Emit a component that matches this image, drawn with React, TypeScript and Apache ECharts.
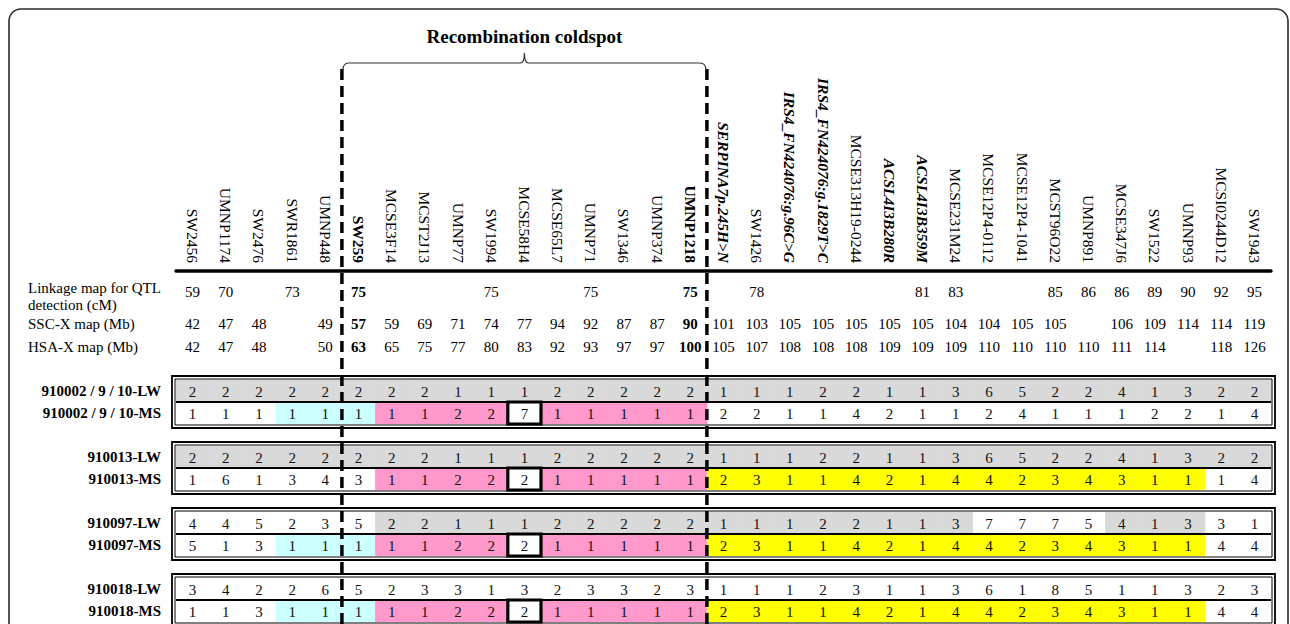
import React, { useEffect, useRef } from 'react';
import * as echarts from 'echarts';

// ---------------- data ----------------
const MARKERS = [
  'SW2456', 'UMNP1174', 'SW2476', 'SWR1861', 'UMNP448',
  'SW259', 'MCSE3F14', 'MCST2J13', 'UMNP77', 'SW1994', 'MCSE58H4', 'MCSE65L7', 'UMNP71', 'SW1346', 'UMNP374', 'UMNP1218',
  'SERPINA7p.245H>N', 'SW1426', 'IRS4_FN424076:g.96C>G', 'IRS4_FN424076:g.1829T>C', 'MCSE313H19-0244',
  'ACSL4I3B280R', 'ACSL4I3B359M', 'MCSE231M24', 'MCSE12P4-0112', 'MCSE12P4-1041', 'MCST96O22', 'UMNP891',
  'MCSE347J6', 'SW1522', 'UMNP93', 'MCSI0244D12', 'SW1943',
];
const BOLD_MARKERS = ['SW259', 'UMNP1218'];
const BOLD_ITALIC_MARKERS = ['SERPINA7p.245H>N', 'IRS4_FN424076:g.96C>G', 'IRS4_FN424076:g.1829T>C', 'ACSL4I3B280R', 'ACSL4I3B359M'];

const COLDSPOT_FIRST = 'SW259';
const COLDSPOT_LAST = 'UMNP1218';
const COLDSPOT_TITLE = 'Recombination coldspot';

const MAP_LABELS = ['Linkage map for QTL\ndetection (cM)', 'SSC-X map (Mb)', 'HSA-X map (Mb)'];
const LINKAGE_CM = [59, 70, null, 73, null, 75, null, null, null, 75, null, null, 75, null, null, 75,
  null, 78, null, null, null, null, 81, 83, null, null, 85, 86, 86, 89, 90, 92, 95];
const SSC_X_MB = [42, 47, 48, null, 49, 57, 59, 69, 71, 74, 77, 94, 92, 87, 87, 90,
  101, 103, 105, 105, 105, 105, 105, 104, 104, 105, 105, null, 106, 109, 114, 114, 119];
const HSA_X_MB = [42, 47, 48, null, 50, 63, 65, 75, 77, 80, 83, 92, 93, 97, 97, 100,
  105, 107, 108, 108, 108, 109, 109, 109, 110, 110, 110, 110, 111, 114, null, 118, 126];

const ANIMALS = ['910002 / 9 / 10', '910013', '910097', '910018'];

const LW_910002 = [2, 2, 2, 2, 2, 2, 2, 2, 1, 1, 1, 2, 2, 2, 2, 2, 1, 1, 1, 2, 2, 1, 1, 3, 6, 5, 2, 2, 4, 1, 3, 2, 2];
const MS_910002 = [1, 1, 1, 1, 1, 1, 1, 1, 2, 2, 7, 1, 1, 1, 1, 1, 2, 2, 1, 1, 4, 2, 1, 1, 2, 4, 1, 1, 1, 2, 2, 1, 4];
const LW_910013 = [2, 2, 2, 2, 2, 2, 2, 2, 1, 1, 1, 2, 2, 2, 2, 2, 1, 1, 1, 2, 2, 1, 1, 3, 6, 5, 2, 2, 4, 1, 3, 2, 2];
const MS_910013 = [1, 6, 1, 3, 4, 3, 1, 1, 2, 2, 2, 1, 1, 1, 1, 1, 2, 3, 1, 1, 4, 2, 1, 4, 4, 2, 3, 4, 3, 1, 1, 1, 4];
const LW_910097 = [4, 4, 5, 2, 3, 5, 2, 2, 1, 1, 1, 2, 2, 2, 2, 2, 1, 1, 1, 2, 2, 1, 1, 3, 7, 7, 7, 5, 4, 1, 3, 3, 1];
const MS_910097 = [5, 1, 3, 1, 1, 1, 1, 1, 2, 2, 2, 1, 1, 1, 1, 1, 2, 3, 1, 1, 4, 2, 1, 4, 4, 2, 3, 4, 3, 1, 1, 4, 4];
const LW_910018 = [3, 4, 2, 2, 6, 5, 2, 3, 3, 1, 3, 2, 3, 3, 2, 3, 1, 1, 1, 2, 3, 1, 1, 3, 6, 1, 8, 5, 1, 1, 3, 2, 3];
const MS_910018 = [1, 1, 3, 1, 1, 1, 1, 1, 2, 2, 2, 1, 1, 1, 1, 1, 2, 3, 1, 1, 4, 2, 1, 4, 4, 2, 3, 4, 3, 1, 1, 4, 4];

// shading codes per cell: w white, g grey, c cyan, p pink, y yellow, b boxed
const SH_LW_910002 = 'ggggggggggggggggggggggggggggggggg';
const SH_MS_910002 = 'wwwcccppppbpppppwwwwwwwwwwwwwwwww';
const SH_LW_910013 = 'ggggggggggggggggggggggggggggggggg';
const SH_MS_910013 = 'wwwwwwppppbpppppyyyyyyyyyyyyyyyww';
const SH_LW_910097 = 'wwwwwwggggggggggggggggggwwwwgggww';
const SH_MS_910097 = 'wwwcccppppbpppppyyyyyyyyyyyyyyyww';
const SH_LW_910018 = 'wwwwwwwwwwwwwwwwwwwwwwwwwwwwwwwww';
const SH_MS_910018 = 'wwwcccppppbpppppyyyyyyyyyyyyyyyww';

const BLOCK_VALUES = [
  [LW_910002, MS_910002], [LW_910013, MS_910013], [LW_910097, MS_910097], [LW_910018, MS_910018],
];
const BLOCK_SHADES = [
  [SH_LW_910002, SH_MS_910002], [SH_LW_910013, SH_MS_910013], [SH_LW_910097, SH_MS_910097], [SH_LW_910018, SH_MS_910018],
];

// ---------------- styling / layout ----------------
const FONT = '"Liberation Serif", "Times New Roman", serif';
const SHADE_KEYS = ['w', 'g', 'c', 'p', 'y', 'b'];
const SHADE_COLORS: Record<string, string> = {
  w: '#ffffff', g: '#d9d9d9', c: '#ccffff', p: '#ff99cc', y: '#ffff00', b: '#ffffff',
};
const GRID_LEFT = 176;
const GRID_W = 1095;
const HEAD_TOP = 271;
const HEAD_H = 90;
const MAP_ROW_Y = [21, 53, 76];
const BLOCK_TOP = 380;
const BLOCK_STEP = 66;
const BLOCK_H = 44;

function buildOption() {
  const nBlocks = ANIMALS.length;

  const grids: any[] = [{ left: GRID_LEFT, top: HEAD_TOP, width: GRID_W, height: HEAD_H }];
  const xAxes: any[] = [{
    type: 'category', gridIndex: 0, data: MARKERS, position: 'top',
    axisLine: { onZero: false, lineStyle: { color: '#000', width: 3.5 } },
    axisTick: { show: false },
    splitLine: { show: false },
    axisLabel: {
      interval: 0, rotate: 90, margin: 8, color: '#000',
      formatter: (name: string) => BOLD_ITALIC_MARKERS.includes(name) ? `{bi|${name}}`
        : BOLD_MARKERS.includes(name) ? `{b|${name}}` : `{n|${name}}`,
      rich: {
        n: { fontSize: 15.5, fontFamily: FONT, color: '#000' },
        b: { fontSize: 15.5, fontFamily: FONT, color: '#000', fontWeight: 'bold' },
        bi: { fontSize: 15.5, fontFamily: FONT, color: '#000', fontWeight: 'bold', fontStyle: 'italic' },
      },
    },
  }];
  const yAxes: any[] = [{ type: 'value', gridIndex: 0, min: 0, max: HEAD_H, inverse: true, show: false }];

  const series: any[] = [];

  // map rows (linkage / SSC-X / HSA-X)
  const mapRows = [LINKAGE_CM, SSC_X_MB, HSA_X_MB];
  const mapData: number[][] = [];
  mapRows.forEach((row, r) => row.forEach((v, i) => {
    if (v != null) mapData.push([i, MAP_ROW_Y[r], v, BOLD_MARKERS.includes(MARKERS[i]) ? 1 : 0]);
  }));
  series.push({
    type: 'custom', xAxisIndex: 0, yAxisIndex: 0, z: 3, silent: true, clip: false,
    data: mapData,
    renderItem: (_p: any, api: any) => {
      const pt = api.coord([api.value(0), api.value(1)]);
      return {
        type: 'text',
        style: {
          text: String(api.value(2)), x: pt[0], y: pt[1], align: 'center', verticalAlign: 'middle',
          fontSize: 15, fontFamily: FONT, fill: '#000', fontWeight: api.value(3) ? 'bold' : 'normal',
        },
      };
    },
  });
  // map row labels
  series.push({
    type: 'custom', xAxisIndex: 0, yAxisIndex: 0, z: 3, silent: true, clip: false,
    data: MAP_LABELS.map((_, r) => [0, MAP_ROW_Y[r], r]),
    renderItem: (_p: any, api: any) => {
      const pt = api.coord([api.value(0), api.value(1)]);
      const txt = MAP_LABELS[api.value(2)];
      const multi = txt.includes('\n');
      return {
        type: 'text',
        style: {
          text: txt, x: 28, y: pt[1] - 8.5 - (multi ? 4 : 0), align: 'left', verticalAlign: 'top',
          fontSize: 15, lineHeight: 17, fontFamily: FONT, fill: '#000',
        },
      };
    },
  });
  // coldspot: dashed boundaries, brace and title
  series.push({
    type: 'custom', xAxisIndex: 0, yAxisIndex: 0, z: 20, silent: true, clip: false,
    data: [[MARKERS.indexOf(COLDSPOT_FIRST), MARKERS.indexOf(COLDSPOT_LAST)]],
    renderItem: (_p: any, api: any) => {
      const bw = api.size([1, 0])[0];
      const x1 = api.coord([api.value(0), 0])[0] - bw / 2;
      const x2 = api.coord([api.value(1), 0])[0] + bw / 2;
      const xm = (x1 + x2) / 2;
      const yb = 63;
      const d = `M${x1 + 1},70 Q${x1 + 1},${yb} ${x1 + 7},${yb} L${xm - 4},${yb} Q${xm},${yb} ${xm},${yb - 10} `
        + `Q${xm},${yb} ${xm + 4},${yb} L${x2 - 7},${yb} Q${x2 - 1},${yb} ${x2 - 1},70`;
      const dash = (x: number) => ({
        type: 'line', shape: { x1: x, y1: 69, x2: x, y2: 640 },
        style: { stroke: '#000', lineWidth: 3.5, lineDash: [11, 6] },
      });
      return {
        type: 'group',
        children: [
          dash(x1), dash(x2),
          { type: 'path', shape: { pathData: d }, style: { fill: 'none', stroke: '#333', lineWidth: 1.2 } },
          {
            type: 'text',
            style: {
              text: COLDSPOT_TITLE, x: xm, y: 36, align: 'center', verticalAlign: 'middle',
              fontSize: 19, fontWeight: 'bold', fontFamily: FONT, fill: '#000',
            },
          },
        ],
      };
    },
  });

  // genotype blocks
  for (let k = 0; k < nBlocks; k++) {
    const gi = k + 1;
    grids.push({ left: GRID_LEFT, top: BLOCK_TOP + k * BLOCK_STEP, width: GRID_W, height: BLOCK_H });
    xAxes.push({ type: 'category', gridIndex: gi, data: MARKERS, show: false });
    yAxes.push({
      type: 'category', gridIndex: gi, inverse: true,
      data: [`${ANIMALS[k]}-LW`, `${ANIMALS[k]}-MS`],
      axisLine: { show: false }, axisTick: { show: false }, splitLine: { show: false },
      axisLabel: { margin: 15, fontSize: 15, fontWeight: 'bold', fontFamily: FONT, color: '#000' },
    });
    const cells: number[][] = [];
    const boxes: number[][] = [];
    BLOCK_VALUES[k].forEach((row, r) => row.forEach((v, i) => {
      const sh = BLOCK_SHADES[k][r][i];
      cells.push([i, r, v, SHADE_KEYS.indexOf(sh)]);
      if (sh === 'b') boxes.push([i, r]);
    }));
    series.push({
      type: 'custom', xAxisIndex: gi, yAxisIndex: gi, z: 2, silent: true, clip: false,
      data: cells,
      renderItem: (_p: any, api: any) => {
        const pt = api.coord([api.value(0), api.value(1)]);
        const sz = api.size([1, 1]);
        const key = SHADE_KEYS[api.value(3)];
        const children: any[] = [];
        if (key !== 'w' && key !== 'b') {
          children.push({
            type: 'rect',
            shape: { x: pt[0] - sz[0] / 2, y: pt[1] - sz[1] / 2, width: sz[0] + 0.6, height: sz[1] },
            style: { fill: SHADE_COLORS[key] },
          });
        }
        children.push({
          type: 'text',
          style: {
            text: String(api.value(2)), x: pt[0], y: pt[1] + 1, align: 'center', verticalAlign: 'middle',
            fontSize: 15, fontFamily: FONT, fill: '#111',
          },
        });
        return { type: 'group', children };
      },
    });
    series.push({
      type: 'custom', xAxisIndex: gi, yAxisIndex: gi, z: 5, silent: true, clip: false,
      data: boxes,
      renderItem: (_p: any, api: any) => {
        const pt = api.coord([api.value(0), api.value(1)]);
        const sz = api.size([1, 1]);
        return {
          type: 'rect',
          shape: { x: pt[0] - sz[0] / 2, y: pt[1] - sz[1] / 2, width: sz[0], height: sz[1] },
          style: { fill: 'none', stroke: '#000', lineWidth: 3.2 },
        };
      },
    });
    series.push({
      type: 'custom', xAxisIndex: gi, yAxisIndex: gi, z: 4, silent: true, clip: false,
      data: [[0, 0]],
      renderItem: (p: any) => {
        const cs = p.coordSys;
        const midY = cs.y + cs.height / 2;
        return {
          type: 'group',
          children: [
            { type: 'rect', shape: { x: cs.x - 4, y: cs.y - 4, width: cs.width + 8, height: cs.height + 8 },
              style: { fill: 'none', stroke: '#000', lineWidth: 1.8 } },
            { type: 'rect', shape: { x: cs.x - 1, y: cs.y - 1, width: cs.width + 2, height: cs.height + 2 },
              style: { fill: 'none', stroke: '#000', lineWidth: 1 } },
            { type: 'line', shape: { x1: cs.x, y1: midY, x2: cs.x + cs.width, y2: midY },
              style: { stroke: '#000', lineWidth: 2 } },
          ],
        };
      },
    });
  }

  return {
    animation: false,
    backgroundColor: '#ffffff',
    textStyle: { fontFamily: FONT },
    grid: grids,
    xAxis: xAxes,
    yAxis: yAxes,
    graphic: [
      {
        type: 'rect', silent: true, z: 0,
        shape: { x: 9, y: 9, width: 1279, height: 700, r: 12 },
        style: { fill: 'none', stroke: '#2b2b2b', lineWidth: 1.6 },
      },
    ],
    series,
  };
}

export default function App() {
  const ref = useRef<HTMLDivElement>(null);
  useEffect(() => {
    if (!ref.current) return;
    const chart = echarts.init(ref.current, null, { renderer: 'svg' });
    chart.setOption(buildOption() as any);
    return () => chart.dispose();
  }, []);
  return (
    <div
      ref={ref}
      style={{ position: 'absolute', left: 0, top: 0, width: 1290, height: 624, background: '#fff' }}
    />
  );
}
